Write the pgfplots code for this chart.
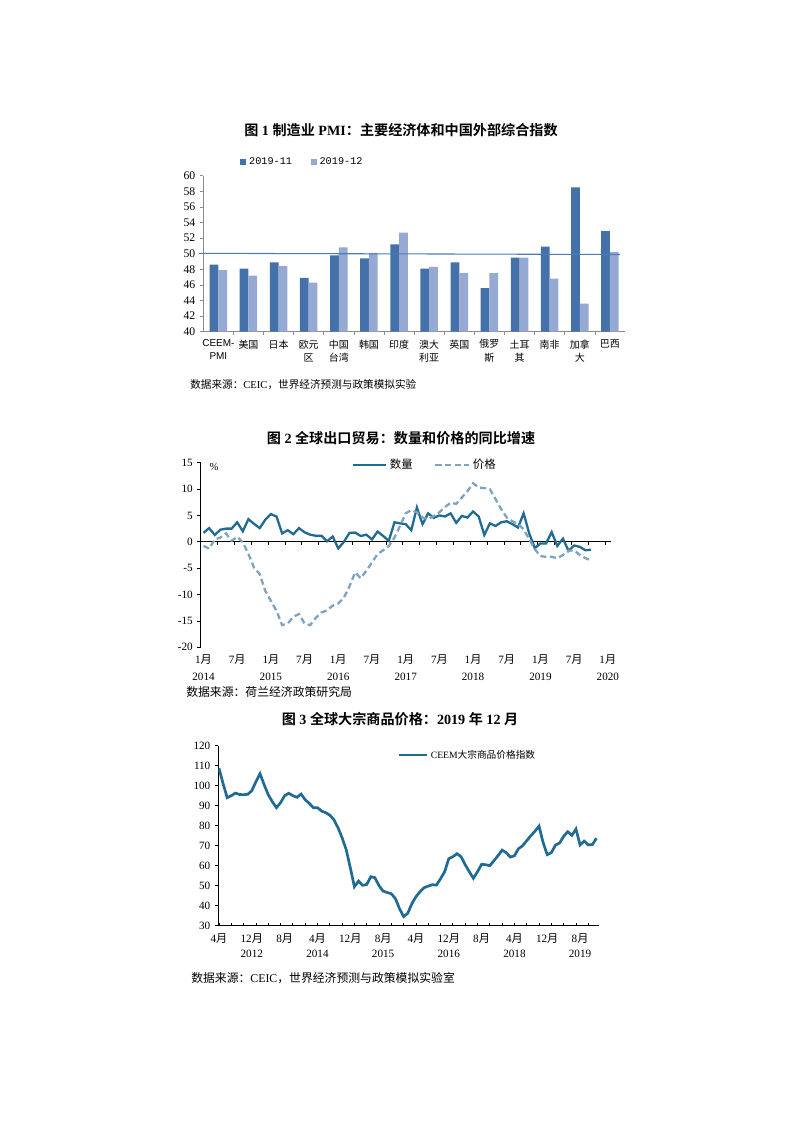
\documentclass[border=0pt]{standalone}
\usepackage{fontspec}
\setmainfont{Liberation Serif}
\newfontfamily\cjk{Noto Sans CJK SC}[BoldFont={Noto Sans CJK SC Bold}]
\newfontfamily\mono{Liberation Mono}
\newfontfamily\sans{Liberation Sans}
\newcommand\zh[1]{{\cjk #1}}
\newcommand\zhb[1]{{\cjk\bfseries #1}}
\usepackage{pgfplots}
\usepackage{pgfplotstable}
\pgfplotsset{compat=1.18}

\definecolor{barA}{HTML}{4471A9}
\definecolor{barB}{HTML}{95A9D2}
\definecolor{refl}{HTML}{4A7DB5}
\definecolor{qty}{HTML}{1F6B93}
\definecolor{prc}{HTML}{7DA4BE}
\definecolor{axgray}{HTML}{8C8C8C}

% chart 1: manufacturing PMI
\pgfplotstableread{
i a b
0 48.6 47.9
1 48.1 47.2
2 48.9 48.4
3 46.9 46.3
4 49.8 50.8
5 49.4 50.1
6 51.2 52.7
7 48.1 48.3
8 48.9 47.5
9 45.6 47.5
10 49.5 49.5
11 50.9 46.8
12 58.5 43.6
13 52.9 50.2
}\pmi

% chart 2: export volume / price yoy, Jan 2014 = 0
\pgfplotstableread{
i q p
0 1.7 -0.75
1 2.6 -1.3
2 1.3 0.45
3 2.3 0.8
4 2.5 1.6
5 2.5 0.2
6 3.7 0.95
7 2.0 -0.1
8 4.3 -2.3
9 3.4 -4.9
10 2.6 -6.1
11 4.2 -9.3
12 5.25 -11.2
13 4.8 -13.1
14 1.6 -15.8
15 2.2 -15.5
16 1.45 -14.2
17 2.6 -13.7
18 1.8 -15.5
19 1.35 -15.8
20 1.15 -14.4
21 1.15 -13.4
22 0.1 -13.0
23 1.0 -12.1
24 -1.25 -11.7
25 0.0 -10.6
26 1.7 -8.4
27 1.75 -5.8
28 1.1 -6.9
29 1.35 -5.5
30 0.45 -3.9
31 1.95 -2.3
32 1.1 -1.6
33 0.2 -0.8
34 3.7 0.8
35 3.5 3.0
36 3.35 5.4
37 2.2 6.0
38 6.5 5.6
39 3.35 4.6
40 5.4 4.3
41 4.55 4.9
42 5.0 5.6
43 4.8 6.6
44 5.4 7.4
45 3.6 7.2
46 4.9 8.4
47 4.6 9.6
48 5.75 11.1
49 4.8 10.3
50 1.3 10.2
51 3.5 10.0
52 3.0 8.1
53 3.7 6.2
54 3.9 4.6
55 3.35 3.9
56 2.7 3.35
57 5.4 2.4
58 1.6 0.5
59 -1.2 -1.4
60 -0.3 -2.7
61 -0.3 -2.85
62 1.85 -2.85
63 -0.8 -3.1
64 0.6 -2.5
65 -1.7 -1.7
66 -0.7 -1.6
67 -0.95 -2.5
68 -1.6 -3.1
69 -1.5 -3.5
}\trade

% chart 3: commodity price index, Apr 2012 = 0
\pgfplotstableread{
i v
0 108.7
1 101
2 94
3 95
4 96.3
5 95.6
6 95.5
7 95.7
8 97.5
9 102
10 106
11 100.5
12 95.5
13 92
14 89
15 91.5
16 95
17 96.2
18 95
19 94.2
20 95.8
21 93
22 91.2
23 89
24 89
25 87.3
26 86.5
27 85.3
28 83
29 79
30 74
31 68
32 59
33 49.5
34 52.3
35 50.2
36 50.6
37 54.5
38 54
39 50
40 47.3
41 46.6
42 46
43 43.5
44 38.5
45 34.6
46 36.2
47 41
48 44.5
49 47
50 49
51 49.8
52 50.5
53 50.3
54 53.5
55 57
56 63.5
57 64.5
58 66
59 64.5
60 60.5
61 57
62 53.7
63 57
64 60.7
65 60.5
66 60
67 62.5
68 65
69 67.8
70 66.5
71 64.3
72 65
73 68.5
74 70
75 72.5
76 75
77 77.2
78 79.8
79 71.5
80 65.5
81 66.5
82 70.3
83 71.3
84 74.7
85 77
86 75.2
87 78.3
88 70.4
89 72.3
90 70.4
91 70.6
92 73.7
}\cmdty

\begin{document}
\begin{tikzpicture}
\begin{scope}[x=0.74375pt,y=-0.74375pt]
\fill[white] (0,0) rectangle (800,1133);
\coordinate (A1) at (203.3,331.7);
\coordinate (A2) at (200.7,647.3);
\coordinate (A3) at (218.3,925.7);
\node[font=\fontsize{10.5}{12}\selectfont] at (401,130)
  {\zhb{图} \textbf{1} \zhb{制造业} \textbf{PMI}\zhb{：主要经济体和中国外部综合指数}};
\node[font=\fontsize{10.5}{12}\selectfont] at (401,438)
  {\zhb{图} \textbf{2} \zhb{全球出口贸易：数量和价格的同比增速}};
\node[font=\fontsize{10.5}{12}\selectfont] at (400,719)
  {\zhb{图} \textbf{3} \zhb{全球大宗商品价格：}\textbf{2019} \zhb{年} \textbf{12} \zhb{月}};
\node[anchor=west, inner sep=0pt, font=\fontsize{7.9}{9}\selectfont] at (190,385)
  {\zh{数据来源：}CEIC\zh{，世界经济预测与政策模拟实验}};
\node[anchor=west, inner sep=0pt, font=\fontsize{8.8}{10}\selectfont] at (186,692)
  {\zh{数据来源：荷兰经济政策研究局}};
\node[anchor=west, inner sep=0pt, font=\fontsize{8.8}{10}\selectfont] at (191,978)
  {\zh{数据来源：}CEIC\zh{，世界经济预测与政策模拟实验室}};
\node[font=\fontsize{8}{9}\selectfont] at (214,466.7) {\%};
\end{scope}

% ---------- chart 1 ----------
\begin{axis}[
  at={(A1)}, anchor=south west, scale only axis,
  width=313.6pt, height=116pt,
  xmin=-0.5, xmax=13.5, ymin=40, ymax=60,
  ytick={40,42,...,60},
  yticklabels={40,42,44,46,48,50,52,54,56,58,60},
  xtick={0,...,13},
  xticklabels={{{\sans CEEM-}\\{\sans PMI}},{\zh{美国}},{\zh{日本}},{\zh{欧元}\\\zh{区}},
    {\zh{中国}\\\zh{台湾}},{\zh{韩国}},{\zh{印度}},{\zh{澳大}\\\zh{利亚}},{\zh{英国}},
    {\zh{俄罗}\\\zh{斯}},{\zh{土耳}\\\zh{其}},{\zh{南非}},{\zh{加拿}\\\zh{大}},{\zh{巴西}}},
  minor xtick={0.5,1.5,...,12.5},
  axis x line*=bottom, axis y line*=left,
  axis line style={draw=axgray, line width=0.5pt},
  tick align=outside,
  major tick length=2.4pt, minor tick length=2.4pt,
  major x tick style={draw=none},
  minor x tick style={draw=axgray, line width=0.5pt},
  ytick style={draw=axgray, line width=0.5pt},
  yticklabel style={font=\fontsize{8.7}{10}\selectfont},
  xticklabel style={font=\fontsize{7.4}{9.7}\selectfont, align=center, anchor=north},
  clip=false,
  legend columns=2,
  legend style={at={(0.236,1.088)}, anchor=center, draw=none, fill=none,
    font=\mono\fontsize{7.6}{9}\selectfont,
    /tikz/every even column/.append style={column sep=12pt}},
  legend image code/.code={\fill[#1] (0pt,-2.2pt) rectangle (4.5pt,2.2pt);},
]
\addplot[ybar, bar width=6.5pt, bar shift=-3.25pt, fill=barA, draw=none] table[x=i,y=a] {\pmi};
\addplot[ybar, bar width=6.5pt, bar shift=3.25pt, fill=barB, draw=none] table[x=i,y=b] {\pmi};
\addplot[refl, line width=0.8pt, forget plot] coordinates {(-0.64,50.05) (13.33,49.9)};
\legend{2019-11, 2019-12}
\end{axis}

% ---------- chart 2 ----------
\begin{axis}[
  at={(A2)}, anchor=south west, scale only axis,
  width=304.9pt, height=137.3pt,
  xmin=-0.5, xmax=72.5, ymin=-20, ymax=15,
  ytick={-20,-15,...,15},
  yticklabels={-20,-15,-10,-5,0,5,10,15},
  axis x line*=middle, axis y line*=left,
  axis line style={black, line width=0.6pt},
  xtick={0,6,...,72},
  xticklabels={{1\zh{月}\\2014},{7\zh{月}},{1\zh{月}\\2015},{7\zh{月}},{1\zh{月}\\2016},{7\zh{月}},
    {1\zh{月}\\2017},{7\zh{月}},{1\zh{月}\\2018},{7\zh{月}},{1\zh{月}\\2019},{7\zh{月}},{1\zh{月}\\2020}},
  minor xtick={2.5,5.5,...,71.5},
  tick align=outside,
  major tick length=2.4pt, minor tick length=2.2pt,
  major x tick style={draw=none},
  minor x tick style={black, line width=0.6pt},
  ytick style={black, line width=0.6pt},
  yticklabel style={font=\fontsize{8.3}{9}\selectfont},
  xticklabel style={font=\fontsize{8.3}{12.4}\selectfont, align=center, anchor=north, yshift=-78.4pt},
  legend columns=2,
  legend style={at={(0.547,0.9876)}, anchor=center, draw=none, fill=none,
    font=\fontsize{8.5}{10}\selectfont,
    /tikz/every even column/.append style={column sep=14pt}},
  legend image code/.code={\draw[#1] (0pt,0pt) -- (25pt,0pt);},
]
\addplot[qty, line width=1.7pt] table[x=i,y=q] {\trade};
\addplot[prc, line width=1.7pt, dash pattern=on 4.5pt off 2.6pt] table[x=i,y=p] {\trade};
\legend{\zh{数量},\zh{价格}}
\end{axis}

% ---------- chart 3 ----------
\begin{axis}[
  at={(A3)}, anchor=south west, scale only axis,
  width=283.4pt, height=133.9pt,
  xmin=-0.17, xmax=92.7, ymin=30, ymax=120,
  ytick={30,40,...,120},
  yticklabels={30,40,50,60,70,80,90,100,110,120},
  axis x line*=bottom, axis y line*=left,
  axis line style={black, line width=0.6pt},
  xtick={0,8,...,88},
  xticklabels={{4\zh{月}},{12\zh{月}\\2012},{8\zh{月}},{4\zh{月}\\2014},{12\zh{月}},{8\zh{月}\\2015},
    {4\zh{月}},{12\zh{月}\\2016},{8\zh{月}},{4\zh{月}\\2018},{12\zh{月}},{8\zh{月}\\2019}},
  minor xtick={0,3,...,90},
  tick align=outside,
  major tick length=2.4pt, minor tick length=2.2pt,
  major x tick style={draw=none},
  minor x tick style={black, line width=0.6pt, yshift=2.2pt},
  ytick style={black, line width=0.6pt},
  yticklabel style={font=\fontsize{8.3}{9}\selectfont},
  xticklabel style={font=\fontsize{8.3}{11.4}\selectfont, align=center, anchor=north},
  legend style={at={(0.654,0.948)}, anchor=center, draw=none, fill=none,
    font=\fontsize{7.2}{9}\selectfont},
  legend image code/.code={\draw[#1] (0pt,0pt) -- (21pt,0pt);},
]
\addplot[qty, line width=2pt] table[x=i,y=v] {\cmdty};
\legend{CEEM\zh{大宗商品价格指数}}
\end{axis}
\end{tikzpicture}
\end{document}
